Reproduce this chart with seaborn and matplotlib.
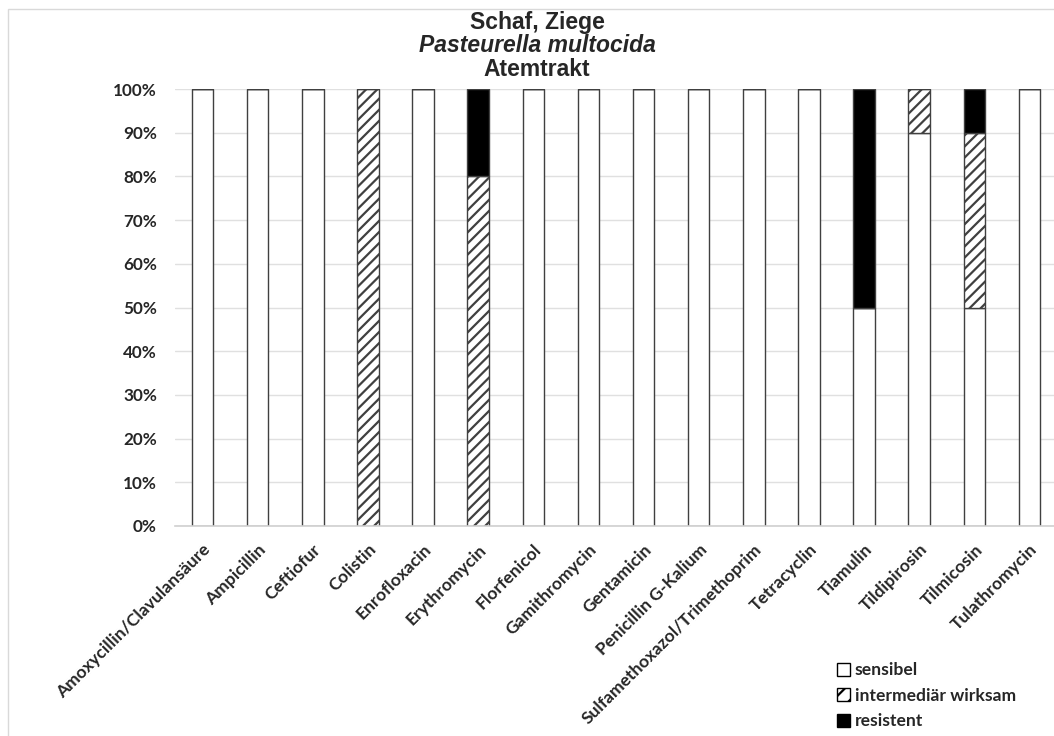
import numpy as np
import pandas as pd
import matplotlib
matplotlib.use('Agg')
import matplotlib.pyplot as plt
import seaborn as sns
from matplotlib.patches import Patch, Rectangle
from matplotlib.ticker import PercentFormatter

# --- Daten ---
antibiotika = ['Amoxycillin/Clavulansäure', 'Ampicillin', 'Ceftiofur', 'Colistin',
               'Enrofloxacin', 'Erythromycin', 'Florfenicol', 'Gamithromycin',
               'Gentamicin', 'Penicillin G-Kalium', 'Sulfamethoxazol/Trimethoprim',
               'Tetracyclin', 'Tiamulin', 'Tildipirosin', 'Tilmicosin', 'Tulathromycin']
sensibel = [1.0, 1.0, 1.0, 0.0, 1.0, 0.0, 1.0, 1.0, 1.0, 1.0, 1.0, 1.0, 0.5, 0.9, 0.5, 1.0]
intermediaer = [0.0, 0.0, 0.0, 1.0, 0.0, 0.8, 0.0, 0.0, 0.0, 0.0, 0.0, 0.0, 0.0, 0.1, 0.4, 0.0]
resistent = [0.0, 0.0, 0.0, 0.0, 0.0, 0.2, 0.0, 0.0, 0.0, 0.0, 0.0, 0.0, 0.5, 0.0, 0.1, 0.0]

df = pd.DataFrame({'ab': antibiotika, 'sens': sensibel, 'inter': intermediaer, 'res': resistent})

sns.set_theme(style='white')
plt.rcParams['font.family'] = ['Lato', 'DejaVu Sans']
plt.rcParams['hatch.linewidth'] = 1.6
plt.rcParams['hatch.color'] = 'black'

fig = plt.figure(figsize=(10.54, 7.36), dpi=100)
W, H = 1054, 736
ax = fig.add_axes([175 / W, 1 - 526 / H, (1057 - 175) / W, (526 - 89) / H])

edge = '#404040'
bw = 0.39
sns.barplot(data=df, x='ab', y='sens', color='white', edgecolor=edge, linewidth=1.0,
            width=bw, ax=ax, saturation=1)
sns.barplot(data=df, x='ab', y='inter', bottom=df['sens'], color='white', edgecolor=edge,
            linewidth=1.0, width=bw, hatch='///', ax=ax, saturation=1)
sns.barplot(data=df, x='ab', y='res', bottom=df['sens'] + df['inter'], color='black',
            edgecolor=edge, linewidth=1.0, width=bw, ax=ax, saturation=1)

ax.set_ylim(0, 1.0)
ax.set_xlim(-0.5, len(antibiotika) - 0.5)
ax.set_yticks(np.arange(0, 1.01, 0.1))
ax.yaxis.set_major_formatter(PercentFormatter(1.0, decimals=0))
ax.grid(axis='y', color='#e0e0e0', linewidth=1.0)
ax.set_axisbelow(True)
for s in ['top', 'right', 'left']:
    ax.spines[s].set_visible(False)
ax.spines['bottom'].set_color('#d0d0d0')
ax.spines['bottom'].set_linewidth(1.2)
ax.set_xlabel('')
ax.set_ylabel('')
ax.tick_params(axis='both', length=0)
ax.tick_params(axis='y', pad=13)
for lab in ax.get_yticklabels():
    lab.set_fontsize(12.3)
    lab.set_fontweight('bold')
ax.set_xticks(range(len(antibiotika)))
ax.set_xticklabels(antibiotika, rotation=45, ha='right', rotation_mode='anchor',
                   fontsize=12.6, fontweight='bold')
ax.tick_params(axis='x', pad=11)

# Titel
fig.text(537 / W, 1 - 23 / H, 'Schaf, Ziege', ha='center', va='center', fontsize=16.5,
         fontweight='bold', family='Liberation Sans')
fig.text(537 / W, 1 - 46 / H, 'Pasteurella multocida', ha='center', va='center', fontsize=16.5,
         fontweight='bold', fontstyle='italic', family='Liberation Sans')
fig.text(537 / W, 1 - 69 / H, 'Atemtrakt', ha='center', va='center', fontsize=16.5,
         fontweight='bold', family='Liberation Sans')

# Rahmen
fig.patches.append(Rectangle((8 / W, -0.1), 1.2, 1 - 9 / H + 0.1, transform=fig.transFigure,
                             fill=False, edgecolor='#d9d9d9', linewidth=1.0))

# Legende
handles = [Patch(facecolor='white', edgecolor='black', label='sensibel'),
           Patch(facecolor='white', edgecolor='black', hatch='//', label='intermediär wirksam'),
           Patch(facecolor='black', edgecolor='black', label='resistent')]
fig.legend(handles=handles, loc='upper left', bbox_to_anchor=(825 / W, 1 - 650 / H),
           frameon=False, handlelength=0.75, handleheight=0.75, handletextpad=0.25,
           labelspacing=0.55, borderpad=0.2, prop={'weight': 'bold', 'size': 12.6})

fig.savefig('out.png', dpi=100)
